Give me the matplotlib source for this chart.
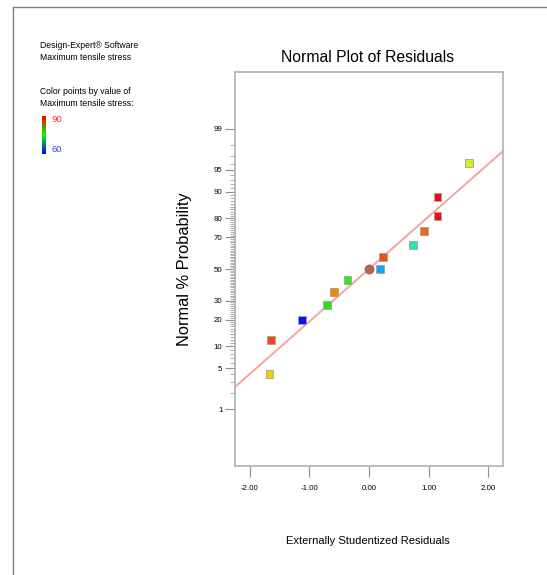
import numpy as np
import matplotlib
matplotlib.use("Agg")
import matplotlib.pyplot as plt
import matplotlib.colors as c
from matplotlib.lines import Line2D
from statistics import NormalDist

plt.rcParams['font.family'] = ['Liberation Sans', 'DejaVu Sans']

# Residuals (x) and normal % probability (y)
resid = [-1.67, -1.64, -1.12, -0.70, -0.59, -0.36, 0.18, 0.23, 0.745, 0.93, 1.15, 1.15, 1.675]
prob = [4.1, 11.9, 19.7, 27.5, 35.3, 43.0, 50.0, 58.0, 65.7, 73.4, 80.9, 88.5, 96.1]
colors = ['#f2d000', '#f04a10', '#0a14e6', '#28e014', '#f08a00', '#36e424', '#12a6f2',
          '#f05214', '#22e6b4', '#f06a10', '#f00a14', '#f00a14', '#d4f014']
centre_x = [0.0]
centre_p = [50.0]
line_slope = 0.87

ytick_vals = [1, 5, 10, 20, 30, 50, 70, 80, 90, 95, 99]
xtick_vals = [-2, -1, 0, 1, 2]

nd = NormalDist()

def fwd(p):
    p = np.clip(np.asarray(p, dtype=float) / 100.0, 1e-6, 1 - 1e-6)
    return np.vectorize(nd.inv_cdf)(p)

def inv(z):
    return np.vectorize(nd.cdf)(np.asarray(z, dtype=float)) * 100.0

fig = plt.figure(figsize=(5.47, 5.75), dpi=100)
ax = fig.add_axes([235/547, 1-466/575, 268/547, 394/575])
ax.set_yscale('function', functions=(fwd, inv))

# Fitted line
xl = np.array([-2.25, 2.25])
ax.plot(xl, inv(line_slope * xl), color='#f6a2a2', lw=1.4, zorder=2)

# Points
ax.scatter(resid, prob, marker='s', s=32, c=colors, edgecolors='#a0a0a0',
           linewidths=0.6, zorder=3)
ax.scatter(centre_x, centre_p, marker='o', s=38, c='#b4625e', edgecolors='#b4625e', zorder=4)

ax.set_xlim(-2.25, 2.25)
ax.set_ylim(inv(-3.27), inv(3.27))

ax.set_yticks(ytick_vals)
ax.set_yticklabels([str(v) for v in ytick_vals], fontsize=5.7)
minor = [v for v in range(1, 100) if v not in ytick_vals]
ax.set_yticks(minor, minor=True)
ax.set_xticks(xtick_vals)
ax.set_xticklabels(['%.2f' % v for v in xtick_vals], fontsize=5.7)

ax.tick_params(axis='y', which='major', length=7, width=0.8, color='#909090', pad=2)
ax.tick_params(axis='y', which='minor', length=3.5, width=0.5, color='#909090')
ax.tick_params(axis='x', which='major', length=8, width=0.8, color='#909090', pad=6)
for s in ax.spines.values():
    s.set_color('#b0b0b0')
    s.set_linewidth(1.2)

fig.text(368/547, 1-57/575, 'Normal Plot of Residuals', fontsize=11.3, ha='center', va='center')
fig.text(185/547, 1-269/575, 'Normal % Probability', fontsize=11.8, rotation=90,
         ha='center', va='center')
fig.text(368/547, 1-541/575, 'Externally Studentized Residuals', fontsize=8,
         ha='center', va='center')

# Legend text at top left
fig.text(40/547, 1-46/575, 'Design-Expert\u00ae Software', fontsize=6.2, va='center')
fig.text(40/547, 1-58/575, 'Maximum tensile stress', fontsize=6.2, va='center')
fig.text(40/547, 1-91/575, 'Color points by value of', fontsize=6.2, va='center')
fig.text(40/547, 1-103/575, 'Maximum tensile stress:', fontsize=6.2, va='center')

cmap = c.LinearSegmentedColormap.from_list('bgr', ['#0000ff', '#00ff00', '#ff0000'])
cax = fig.add_axes([42/547, 1-154/575, 4/547, 38/575])
cax.imshow(np.linspace(0, 1, 64).reshape(-1, 1), cmap=cmap, aspect='auto', origin='lower')
cax.axis('off')
fig.text(51/547, 1-120/575, '90', fontsize=6.8, color='#ff3030', va='center')
fig.text(51/547, 1-150/575, '60', fontsize=6.8, color='#3c3cff', va='center')

# Outer frame lines
fig.add_artist(Line2D([13/547, 13/547], [0, 1-7/575], color='#808080', lw=1.0))
fig.add_artist(Line2D([13/547, 1], [1-7/575, 1-7/575], color='#808080', lw=1.0))

fig.savefig('out.png', dpi=100)
